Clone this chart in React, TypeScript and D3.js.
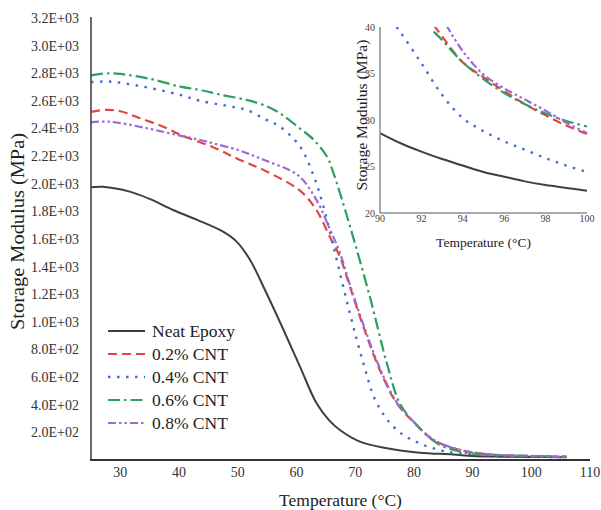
import React from "react";
import * as d3 from "d3";

// ---------- main chart data (Temperature °C, Storage Modulus MPa) ----------
const neatT = [25, 27, 31.6, 35, 39, 43, 47.5, 49.8, 52.1, 54.9, 57.8, 60.6, 63.4, 65.5, 67.4, 70.8, 75.4, 81, 86.7, 90, 95, 100, 106];
const neatV = [1975, 1978, 1943, 1890, 1810, 1740, 1653, 1581, 1448, 1207, 941, 676, 412, 290, 217, 133, 85, 53, 40, 28.6, 24.4, 22.4, 20];

const cnt02T = [25, 27.5, 30, 33, 37.3, 41, 45.8, 50, 54.6, 60.6, 63.4, 65.7, 67.4, 69.1, 71.4, 74.2, 77.1, 79.9, 83.3, 87.9, 92.7, 95, 100, 106];
const cnt02V = [2520, 2535, 2525, 2480, 2413, 2340, 2265, 2180, 2095, 1950, 1810, 1615, 1472, 1255, 965, 652, 410, 277, 145, 72, 40, 34.6, 28.5, 23];

const cnt04T = [25, 28, 33, 40.2, 43.6, 48, 51.5, 54.9, 57.2, 60.6, 62.9, 64.6, 66.3, 69.1, 71.4, 73.7, 77.1, 81, 85.6, 91, 95, 100, 106];
const cnt04V = [2735, 2740, 2710, 2643, 2600, 2565, 2534, 2462, 2413, 2270, 2060, 1834, 1545, 1062, 700, 410, 217, 120, 60, 39.4, 28.8, 24.4, 20];

const cnt06T = [25, 28, 30, 35, 40.2, 43.6, 47, 51.5, 55, 57.2, 60.6, 62.9, 65.2, 66.2, 67.5, 69.2, 72.5, 75.4, 77.6, 80.2, 83.9, 87.9, 92.6, 95, 100, 106];
const cnt06V = [2785, 2800, 2795, 2760, 2703, 2679, 2645, 2607, 2560, 2510, 2400, 2320, 2196, 2090, 1920, 1680, 1182, 700, 410, 266, 123, 60, 39.5, 34.4, 29.3, 24];

const cnt08T = [25, 28, 34.5, 40, 43.6, 45.8, 50, 54.6, 60.3, 63.4, 65.5, 67.4, 69.1, 71.4, 74.2, 77.1, 80, 83.3, 87.9, 93.2, 95, 100, 106];
const cnt08V = [2445, 2450, 2402, 2350, 2317, 2293, 2245, 2170, 2060, 1883, 1690, 1500, 1270, 980, 665, 415, 275, 148, 73, 40.2, 34.9, 28.6, 23];

// ---------- inset data (90–100 °C) ----------
const inNeatT = [90, 91, 92, 93, 94, 95, 96, 97, 98, 99, 100];
const inNeatV = [28.6, 27.5, 26.6, 25.8, 25.1, 24.4, 23.9, 23.4, 23.0, 22.7, 22.4];
const in02T = [92.6, 93, 94, 95, 96, 97, 98, 99, 100];
const in02V = [40.2, 39.0, 36.2, 34.6, 33.1, 31.7, 30.5, 29.4, 28.5];
const in04T = [90.8, 91, 92, 93, 94, 95, 96, 97, 98, 99, 100];
const in04V = [40.0, 39.4, 36.1, 32.7, 30.2, 28.8, 27.7, 26.8, 25.9, 25.1, 24.4];
const in06T = [92.6, 93, 94, 95, 96, 97, 98, 99, 100];
const in06V = [39.5, 38.6, 36.2, 34.4, 32.9, 31.7, 30.7, 29.9, 29.3];
const in08T = [93.2, 94, 95, 96, 97, 98, 99, 100];
const in08V = [40.2, 37.4, 34.9, 33.4, 32.2, 31.0, 29.7, 28.6];

// ---------- ticks & labels ----------
const yTickValues = [200, 400, 600, 800, 1000, 1200, 1400, 1600, 1800, 2000, 2200, 2400, 2600, 2800, 3000, 3200];
const yTickLabels = ["2.0E+02", "4.0E+02", "6.0E+02", "8.0E+02", "1.0E+03", "1.2E+03", "1.4E+03", "1.6E+03", "1.8E+03", "2.0E+03", "2.2E+03", "2.4E+03", "2.6E+03", "2.8E+03", "3.0E+03", "3.2E+03"];
const xTickValues = [30, 40, 50, 60, 70, 80, 90, 100, 110];
const inXTicks = [90, 92, 94, 96, 98, 100];
const inYTicks = [20, 25, 30, 35, 40];
const seriesNames = ["Neat Epoxy", "0.2% CNT", "0.4% CNT", "0.6% CNT", "0.8% CNT"];

const FONT = "Liberation Serif, DejaVu Serif, serif";

const styles = [
  { color: "#3f3f3f", dash: "none", width: 2 },
  { color: "#e2453f", dash: "9,5", width: 2.2 },
  { color: "#3f6fcf", dash: "2.5,6.5", width: 2.4 },
  { color: "#2f9e5f", dash: "12,4,2.5,4", width: 2.2 },
  { color: "#9b6ad6", dash: "8,3,2.5,3,2.5,3", width: 2.2 },
];

const mainSeries = [
  [neatT, neatV],
  [cnt02T, cnt02V],
  [cnt04T, cnt04V],
  [cnt06T, cnt06V],
  [cnt08T, cnt08V],
];
const insetSeries = [
  [inNeatT, inNeatV],
  [in02T, in02V],
  [in04T, in04V],
  [in06T, in06V],
  [in08T, in08V],
];

export default function App() {
  const x = d3.scaleLinear().domain([25, 110]).range([91, 590]);
  const y = d3.scaleLinear().domain([0, 3200]).range([460, 18]);
  const ix = d3.scaleLinear().domain([90, 100]).range([380, 587]);
  const iy = d3.scaleLinear().domain([20, 40]).range([213, 27]);

  const mainLine = d3
    .line<[number, number]>()
    .x((d) => x(d[0]))
    .y((d) => y(d[1]))
    .curve(d3.curveCatmullRom.alpha(0.5));
  const insetLine = d3
    .line<[number, number]>()
    .x((d) => ix(d[0]))
    .y((d) => iy(d[1]))
    .curve(d3.curveCatmullRom.alpha(0.5));

  const zipT = (t: number[], v: number[]) => t.map((tt, i) => [tt, v[i]] as [number, number]);

  const legendX0 = 108;
  const legendX1 = 145;
  const legendY = [331, 354, 377, 400, 423];
  const txt = { fontFamily: FONT };

  return (
    <svg
      width={601}
      height={510}
      style={{ position: "absolute", left: 0, top: 0, background: "#fff", fontFamily: FONT }}
    >
      <rect x={0} y={0} width={601} height={510} fill="#fff" />
      <defs>
        <clipPath id="insetClip">
          <rect x={ix(90)} y={iy(40)} width={ix(100) - ix(90) + 2} height={iy(20) - iy(40)} />
        </clipPath>
      </defs>

      {/* main curves */}
      {mainSeries.map(([t, v], i) => (
        <path
          key={"m" + i}
          d={mainLine(zipT(t, v)) || ""}
          fill="none"
          stroke={styles[i].color}
          strokeWidth={styles[i].width}
          strokeDasharray={styles[i].dash}
        />
      ))}

      {/* main axes */}
      <line x1={91} x2={91} y1={17} y2={460} stroke="#444" strokeWidth={1.6} />
      <line x1={90} x2={590} y1={460} y2={460} stroke="#333" strokeWidth={2} />

      {yTickValues.map((v, i) => (
        <text key={"yt" + i} x={79} y={y(v)} dy="0.35em" textAnchor="end" fontSize={14} fill="#333" style={txt}>
          {yTickLabels[i]}
        </text>
      ))}
      {xTickValues.map((v) => (
        <text key={"xt" + v} x={x(v)} y={477} textAnchor="middle" fontSize={14} fill="#333" style={txt}>
          {v}
        </text>
      ))}
      <text x={340.5} y={506} textAnchor="middle" fontSize={17.5} fill="#222" style={txt}>
        Temperature (°C)
      </text>
      <text
        transform="translate(18,231.5) rotate(-90)"
        textAnchor="middle"
        dy="0.35em"
        fontSize={18}
        fill="#222"
        style={txt}
        textLength={197}
        lengthAdjust="spacingAndGlyphs"
      >
        Storage Modulus (MPa)
      </text>

      {/* legend */}
      {seriesNames.map((n, i) => (
        <g key={"lg" + i}>
          <line
            x1={legendX0}
            x2={legendX1}
            y1={legendY[i]}
            y2={legendY[i]}
            stroke={styles[i].color}
            strokeWidth={styles[i].width}
            strokeDasharray={styles[i].dash}
          />
          <text x={152} y={legendY[i]} dy="0.35em" fontSize={17.5} fill="#222" style={txt}>
            {n}
          </text>
        </g>
      ))}

      {/* inset */}
      <g clipPath="url(#insetClip)">
        {insetSeries.map(([t, v], i) => (
          <path
            key={"in" + i}
            d={insetLine(zipT(t, v)) || ""}
            fill="none"
            stroke={styles[i].color}
            strokeWidth={styles[i].width}
            strokeDasharray={styles[i].dash}
          />
        ))}
      </g>
      <line x1={ix(90)} x2={ix(90)} y1={iy(40)} y2={iy(20)} stroke="#8c8c8c" strokeWidth={1.5} />
      <line x1={ix(90)} x2={ix(100)} y1={iy(20)} y2={iy(20)} stroke="#8c8c8c" strokeWidth={1.5} />
      {inYTicks.map((v) => (
        <text key={"iyt" + v} x={375} y={iy(v)} dy="0.35em" textAnchor="end" fontSize={10} fill="#444" style={txt}>
          {v}
        </text>
      ))}
      {inXTicks.map((v) => (
        <text key={"ixt" + v} x={ix(v)} y={222} textAnchor="middle" fontSize={10} fill="#444" style={txt}>
          {v}
        </text>
      ))}
      <text x={483.5} y={247} textAnchor="middle" fontSize={13.5} fill="#222" style={txt}>
        Temperature (°C)
      </text>
      <text
        transform="translate(362,115) rotate(-90)"
        textAnchor="middle"
        dy="0.35em"
        fontSize={14}
        fill="#222"
        style={txt}
        textLength={151}
        lengthAdjust="spacingAndGlyphs"
      >
        Storage Modulus (MPa)
      </text>
    </svg>
  );
}
